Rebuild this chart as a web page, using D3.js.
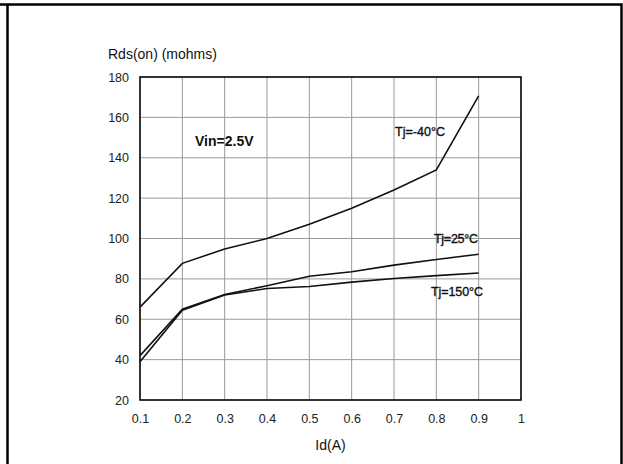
<!DOCTYPE html>
<html>
<head>
<meta charset="utf-8">
<script src="https://cdn.jsdelivr.net/npm/d3@7"></script>
<style>
  body { margin: 0; background: #fff; }
  text { font-family: "Liberation Sans", Arial, sans-serif; fill: #111; }
</style>
</head>
<body>
<div id="chart"></div>
<script>
var svgWidth = 623;
var svgHeight = 464;

var margin = { top: 77, right: 102, bottom: 64, left: 140 };
var width = 521 - margin.left;
var height = 400 - margin.top;

// chart data
var idValues = [0.1, 0.2, 0.3, 0.4, 0.5, 0.6, 0.7, 0.8, 0.9];
var tjMinus40 = [66, 87.7, 94.8, 100, 107, 115, 124, 134, 170.7];
var tj25 = [42, 65, 72.3, 76.6, 81.3, 83.5, 86.8, 89.6, 92.2];
var tj150 = [39, 64.5, 72, 75.2, 76.2, 78.4, 80.2, 81.6, 82.9];
var xTicks = [0.1, 0.2, 0.3, 0.4, 0.5, 0.6, 0.7, 0.8, 0.9, 1];
var yTicks = [20, 40, 60, 80, 100, 120, 140, 160, 180];

var series = [
  { name: "Tj=-40°C", values: tjMinus40, lx: 395, ly: 136, w: 50 },
  { name: "Tj=25°C", values: tj25, lx: 434, ly: 243, w: 44 },
  { name: "Tj=150°C", values: tj150, lx: 431, ly: 296, w: 52 }
];

var svg = d3.select("#chart")
  .append("svg")
  .attr("width", svgWidth)
  .attr("height", svgHeight);

// outer frame (bottom edge is cut off in the picture)
svg.append("path")
  .attr("d", "M0,4.5 H621.5 V464 M7.5,4.5 V464")
  .attr("fill", "none")
  .attr("stroke", "#000")
  .attr("stroke-width", 2.5);

var chartGroup = svg.append("g")
  .attr("transform", `translate(${margin.left}, ${margin.top})`);

var xScale = d3.scaleLinear().domain([0.1, 1]).range([0, width]);
var yScale = d3.scaleLinear().domain([20, 180]).range([height, 0]);

// grid
chartGroup.append("g")
  .selectAll("line.vgrid")
  .data(xTicks)
  .enter()
  .append("line")
  .attr("x1", d => xScale(d))
  .attr("x2", d => xScale(d))
  .attr("y1", 0)
  .attr("y2", height)
  .attr("stroke", "#9a9a9a")
  .attr("stroke-width", 1);

chartGroup.append("g")
  .selectAll("line.hgrid")
  .data(yTicks)
  .enter()
  .append("line")
  .attr("x1", 0)
  .attr("x2", width)
  .attr("y1", d => yScale(d))
  .attr("y2", d => yScale(d))
  .attr("stroke", "#9a9a9a")
  .attr("stroke-width", 1);

// plot border
chartGroup.append("rect")
  .attr("width", width)
  .attr("height", height)
  .attr("fill", "none")
  .attr("stroke", "#000")
  .attr("stroke-width", 1.5);

// axes (labels only, border drawn above)
var bottomAxis = d3.axisBottom(xScale)
  .tickValues(xTicks)
  .tickSize(0)
  .tickPadding(14)
  .tickFormat(d3.format("~g"));

var leftAxis = d3.axisLeft(yScale)
  .tickValues(yTicks)
  .tickSize(0)
  .tickPadding(11);

var xAxis = chartGroup.append("g")
  .attr("transform", `translate(0, ${height})`)
  .call(bottomAxis);

var yAxis = chartGroup.append("g")
  .call(leftAxis);

[xAxis, yAxis].forEach(function(ax) {
  ax.select(".domain").remove();
  ax.selectAll("text")
    .attr("font-size", 12.5)
    .attr("font-family", "Liberation Sans, Arial, sans-serif")
    .style("fill", "#222");
});

// curves
var line = d3.line()
  .x((d, i) => xScale(idValues[i]))
  .y(d => yScale(d));

chartGroup.selectAll("path.curve")
  .data(series)
  .enter()
  .append("path")
  .attr("class", "curve")
  .attr("d", d => line(d.values))
  .attr("fill", "none")
  .attr("stroke", "#111")
  .attr("stroke-width", 1.6);

// curve labels
svg.selectAll("text.tj")
  .data(series)
  .enter()
  .append("text")
  .attr("class", "tj")
  .attr("x", d => d.lx)
  .attr("y", d => d.ly)
  .attr("font-size", 12.5)
  .attr("stroke", "#111")
  .attr("stroke-width", 0.35)
  .attr("textLength", d => d.w)
  .text(d => d.name);

svg.append("text")
  .attr("x", 195)
  .attr("y", 146)
  .attr("font-size", 14)
  .attr("font-weight", "bold")
  .text("Vin=2.5V");

svg.append("text")
  .attr("x", 108)
  .attr("y", 59)
  .attr("font-size", 14)
  .text("Rds(on) (mohms)");

svg.append("text")
  .attr("x", margin.left + width / 2)
  .attr("y", 450)
  .attr("text-anchor", "middle")
  .attr("font-size", 14)
  .text("Id(A)");
</script>
</body>
</html>
